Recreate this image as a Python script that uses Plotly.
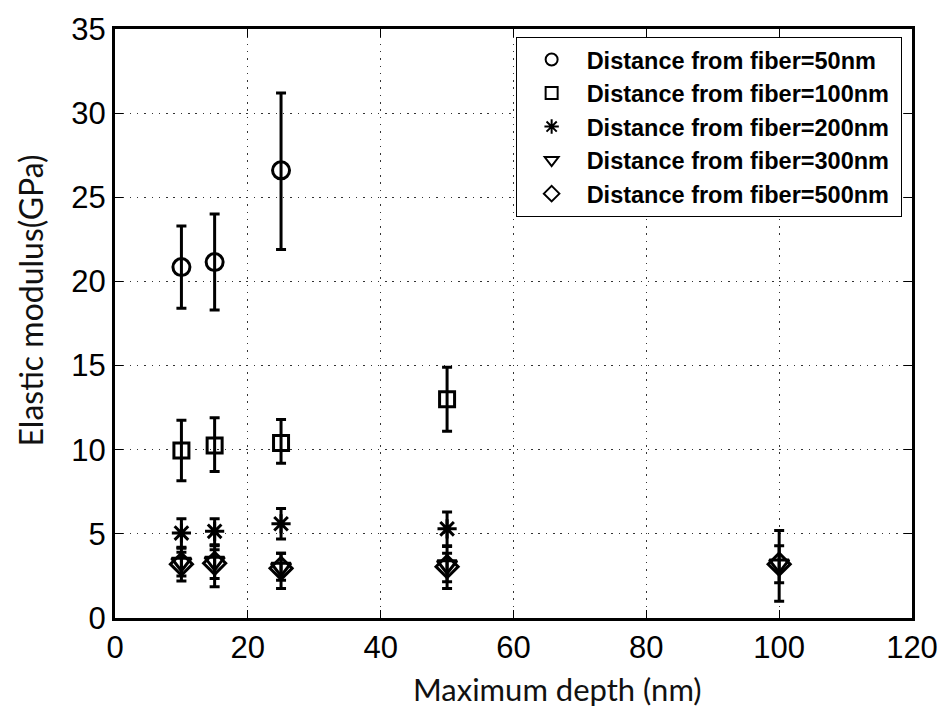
import plotly.graph_objects as go

names = [
    "Distance from fiber=50nm",
    "Distance from fiber=100nm",
    "Distance from fiber=200nm",
    "Distance from fiber=300nm",
    "Distance from fiber=500nm",
]

x_ticks = [0, 20, 40, 60, 80, 100, 120]
y_ticks = [0, 5, 10, 15, 20, 25, 30, 35]

# series: x, y, err_plus, err_minus
d50_x = [10, 15, 25]
d50_y = [20.85, 21.15, 26.6]
d50_up = [2.45, 2.85, 4.6]
d50_dn = [2.45, 2.85, 4.7]

d100_x = [10, 15, 25, 50]
d100_y = [9.95, 10.25, 10.4, 13.0]
d100_up = [1.8, 1.65, 1.4, 1.9]
d100_dn = [1.8, 1.55, 1.2, 1.9]

d200_x = [10, 15, 25, 50]
d200_y = [5.05, 5.15, 5.6, 5.3]
d200_up = [0.85, 0.75, 0.9, 1.0]
d200_dn = [0.9, 0.8, 0.9, 1.0]

d300_x = [10, 15, 25, 50, 100]
d300_y = [3.3, 3.35, 3.0, 3.15, 3.2]
d300_up = [0.9, 0.95, 0.85, 1.1, 2.0]
d300_dn = [1.1, 1.5, 1.25, 1.4, 2.2]

d500_x = [10, 15, 25, 50, 100]
d500_y = [3.2, 3.25, 2.95, 3.05, 3.2]
d500_up = [0.7, 0.8, 0.9, 0.8, 1.1]
d500_dn = [0.7, 0.9, 0.7, 0.9, 1.1]

symbols = ["circle-open", "square-open", "asterisk-open", "triangle-down-open", "diamond-open"]
sizes = [17, 15, 16, 17, 17]
series = [
    (d50_x, d50_y, d50_up, d50_dn),
    (d100_x, d100_y, d100_up, d100_dn),
    (d200_x, d200_y, d200_up, d200_dn),
    (d300_x, d300_y, d300_up, d300_dn),
    (d500_x, d500_y, d500_up, d500_dn),
]

fig = go.Figure()

for (x, y, up, dn), sym, sz, nm in zip(series, symbols, sizes, names):
    fig.add_trace(go.Scatter(
        x=x, y=y, mode="markers", name=nm, showlegend=False,
        marker=dict(symbol=sym, size=sz, color="black", line=dict(width=3, color="black")),
        error_y=dict(type="data", symmetric=False, array=up, arrayminus=dn,
                     color="black", thickness=3, width=5),
    ))

# legend entries (thin markers like the reference legend)
for sym, nm in zip(symbols, names):
    fig.add_trace(go.Scatter(
        x=[None], y=[None], mode="markers", name=nm + "\u00a0",
        marker=dict(symbol=sym, size=15, color="black", line=dict(width=1, color="black")),
    ))

axis_common = dict(
    showline=True, linewidth=3, linecolor="black", mirror="ticks",
    ticks="inside", ticklen=8, tickwidth=1, tickcolor="black",
    showgrid=True, gridcolor="#333333", gridwidth=1, griddash="1.5px,5.8px",
    zeroline=False,
    tickfont=dict(family="Liberation Sans, Arial", size=31, color="black"),
)

fig.update_xaxes(range=[0, 120], tickvals=x_ticks, **axis_common)
fig.update_yaxes(range=[0, 35], tickvals=y_ticks, **axis_common)

fig.add_annotation(text="Maximum depth (nm)", xref="paper", yref="paper",
                   x=(561 - 115) / 804, y=-(690 - 618) / 596,
                   xanchor="center", yanchor="middle", showarrow=False,
                   font=dict(family="Lato", size=31, color="#111111"))
fig.add_annotation(text="Elastic modulus(GPa)", xref="paper", yref="paper",
                   x=-(115 - 30) / 804, y=(618 - 297) / 596, textangle=-90,
                   xanchor="center", yanchor="middle", showarrow=False,
                   font=dict(family="Lato", size=32, color="#111111"))

fig.update_layout(
    width=950, height=717,
    margin=dict(l=115, r=31, t=22, b=99),
    plot_bgcolor="white", paper_bgcolor="white",
    showlegend=True,
    legend=dict(x=0.987, y=0.987, xanchor="right", yanchor="top",
                bgcolor="white", bordercolor="black", borderwidth=1,
                font=dict(family="Liberation Sans, Arial", size=23.5, color="black", weight="bold"),
                itemsizing="constant", itemwidth=60, tracegroupgap=0),
)

fig.write_html("out.html")
